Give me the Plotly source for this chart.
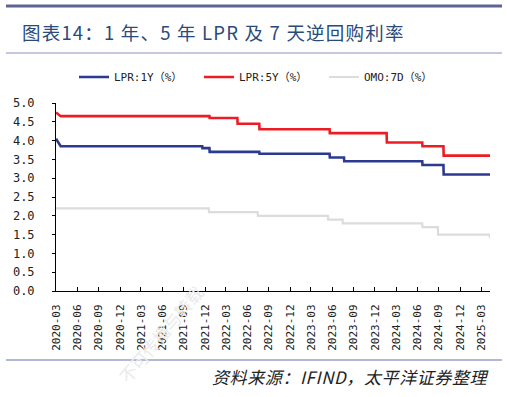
import pandas as pd
import plotly.graph_objects as go

# ---- data (change points; each value holds until the next date) ----
lpr1y_dates = ["2020-03-31", "2020-04-20", "2021-12-20", "2022-01-20", "2022-08-22",
               "2023-06-20", "2023-08-21", "2024-07-22", "2024-10-21", "2025-05-08"]
lpr1y_values = [4.05, 3.85, 3.80, 3.70, 3.65, 3.55, 3.45, 3.35, 3.10, 3.10]

lpr5y_dates = ["2020-03-31", "2020-04-20", "2022-01-20", "2022-05-20", "2022-08-22",
               "2023-06-20", "2024-02-20", "2024-07-22", "2024-10-21", "2025-05-08"]
lpr5y_values = [4.75, 4.65, 4.60, 4.45, 4.30, 4.20, 3.95, 3.85, 3.60, 3.60]

omo7d_dates = ["2020-03-31", "2022-01-17", "2022-08-15", "2023-06-13", "2023-08-15",
               "2024-07-22", "2024-09-27", "2025-05-08"]
omo7d_values = [2.20, 2.10, 2.00, 1.90, 1.80, 1.70, 1.50, 1.40]

series_names = ["LPR:1Y（%）", "LPR:5Y（%）", "OMO:7D（%）"]
series_colors = ["#2b3990", "#ed1c24", "#dcdcdc"]

x_tick_labels = ["2020-03", "2020-06", "2020-09", "2020-12", "2021-03", "2021-06",
                 "2021-09", "2021-12", "2022-03", "2022-06", "2022-09", "2022-12",
                 "2023-03", "2023-06", "2023-09", "2023-12", "2024-03", "2024-06",
                 "2024-09", "2024-12", "2025-03"]
y_tick_values = [0.0, 0.5, 1.0, 1.5, 2.0, 2.5, 3.0, 3.5, 4.0, 4.5, 5.0]

title_text = "图表14：1 年、5 年 LPR 及 7 天逆回购利率"
source_text = "资料来源：IFIND，太平洋证券整理"
watermark_text = "不可传播与转载"


def stepped(dates, values, diagonal_first=False):
    xs, ys = [], []
    for i, (d, v) in enumerate(zip(dates, values)):
        t = pd.Timestamp(d)
        if i > 0 and not (diagonal_first and i == 1):
            xs.append(t - pd.Timedelta(days=1))
            ys.append(values[i - 1])
        xs.append(t)
        ys.append(v)
    return xs, ys


# ---- geometry (pixels) ----
W, H = 507, 397
PL, PR, PT, PB = 56, 490, 103, 291


def px_x(px):
    return (px - PL) / (PR - PL)


def px_y(py):
    return (PB - py) / (PB - PT)


fig = go.Figure()

# faint watermark drawn first so it sits under everything else
fig.add_annotation(text=watermark_text, xref="paper", yref="paper", x=px_x(160), y=px_y(334),
                   xanchor="center", yanchor="middle", showarrow=False, textangle=-50,
                   font=dict(family="Noto Sans CJK SC, sans-serif", size=17, color="#eaeaea"))

data_sets = [
    (lpr1y_dates, lpr1y_values, True, 2.6),
    (lpr5y_dates, lpr5y_values, True, 2.6),
    (omo7d_dates, omo7d_values, False, 2.2),
]
for (d, v, diag, w), name, color in zip(data_sets, series_names, series_colors):
    xs, ys = stepped(d, v, diag)
    fig.add_trace(go.Scatter(x=xs, y=ys, mode="lines", name=name,
                             line=dict(color=color, width=w), hoverinfo="skip"))

tick_vals = [pd.Period(t, freq="M").end_time.normalize() for t in x_tick_labels]

mono = "DejaVu Sans Mono, monospace"
x_font = dict(family=mono, size=11, color="#222222")
y_font = dict(family=mono, size=12, color="#222222")

fig.update_layout(
    width=W, height=H,
    margin=dict(l=PL, r=W - PR, t=PT, b=H - PB, pad=0, autoexpand=False),
    paper_bgcolor="white", plot_bgcolor="white",
    showlegend=True,
    legend=dict(orientation="h", x=px_x(74), xanchor="left",
                y=px_y(77), yanchor="middle",
                font=dict(family="DejaVu Sans Mono, Noto Sans CJK SC, monospace", size=11, color="#222222"),
                itemwidth=30, entrywidth=80, bgcolor="rgba(0,0,0,0)"),
    xaxis=dict(type="date", range=[pd.Timestamp(lpr1y_dates[0]), pd.Timestamp(lpr1y_dates[-1])],
               tickmode="array", tickvals=tick_vals, ticktext=x_tick_labels,
               tickangle=-90, ticks="inside", ticklen=4, tickcolor="#000000", tickwidth=1,
               ticklabelstandoff=8,
               showline=True, linecolor="#000000", linewidth=1,
               showgrid=False, zeroline=False, tickfont=x_font),
    yaxis=dict(range=[0, 5], tickmode="array", tickvals=y_tick_values,
               ticktext=[f"{v:.1f}" for v in y_tick_values],
               ticks="outside", ticklen=3, tickcolor="#000000", tickwidth=1,
               ticklabelstandoff=15,
               showline=True, linecolor="#000000", linewidth=1,
               showgrid=False, zeroline=False, tickfont=y_font),
    shapes=[
        dict(type="line", xref="paper", yref="paper", x0=px_x(6), x1=px_x(502),
             y0=px_y(6), y1=px_y(6), line=dict(color="#5f6494", width=3)),
        dict(type="line", xref="paper", yref="paper", x0=px_x(6), x1=px_x(502),
             y0=px_y(53), y1=px_y(53), line=dict(color="#8a90c0", width=1.2)),
        dict(type="line", xref="paper", yref="paper", x0=px_x(6), x1=px_x(502),
             y0=px_y(360), y1=px_y(360), line=dict(color="#9aa0cc", width=1.6)),
    ],
)

fig.add_annotation(text='<span style="letter-spacing:1.2px">' + title_text + "</span>",
                   xref="paper", yref="paper", x=px_x(20), y=px_y(32),
                   xanchor="left", yanchor="middle", showarrow=False,
                   font=dict(family="Noto Sans CJK SC, sans-serif", size=18.5, color="#2a4a7a"))
fig.add_annotation(text='<span style="letter-spacing:0.6px"><i>' + source_text + "</i></span>",
                   xref="paper", yref="paper",
                   x=px_x(491), y=px_y(376), xanchor="right", yanchor="middle", showarrow=False,
                   font=dict(family="Noto Sans CJK SC, sans-serif", size=17, color="#222222"))

fig.write_html("out.html", config={"displayModeBar": False, "staticPlot": True},
               post_script="document.body.style.margin='0';document.body.style.overflow='hidden';")
